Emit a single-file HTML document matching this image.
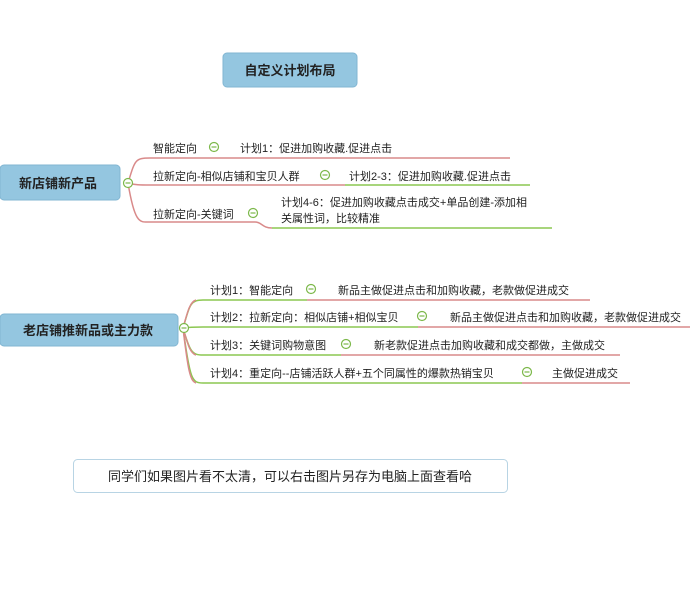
<!DOCTYPE html>
<html><head><meta charset="utf-8"><style>
html,body{margin:0;padding:0;background:#fff;}
svg{display:block;font-family:"Liberation Sans","Noto Sans CJK SC",sans-serif;}
.t{font-size:11px;fill:#222;}
.b{font-size:13px;fill:#222;font-weight:bold;}
</style></head><body>
<svg width="700" height="590" viewBox="0 0 700 590" xmlns="http://www.w3.org/2000/svg">
<rect x="223" y="53" width="134" height="34" rx="4" fill="#94c6e0" stroke="#82b6d2"/>
<text class="b" x="290" y="75" text-anchor="middle" font-weight="normal">自定义计划布局</text>

<!-- group 1 -->
<g fill="none" stroke-width="1.5">
<path d="M128 183 C135 160,135 158,150 158 L510 158" stroke="#d98a8a"/>
<path d="M128 183 C135 185,140 185,150 185 L345 185" stroke="#d98a8a"/>
<path d="M345 185 L530 185" stroke="#8cc751"/>
<path d="M128 183 C135 225,140 222,150 222 L255 222 C262 222,262 228,272 228" stroke="#d98a8a"/>
<path d="M272 228 L552 228" stroke="#8cc751"/>
</g>
<rect x="0" y="165" width="120" height="35" rx="4" fill="#94c6e0" stroke="#82b6d2"/>
<text class="b" x="58" y="188" text-anchor="middle" font-weight="normal">新店铺新产品</text>
<g fill="#fff" stroke="#7cb84a" stroke-width="1.2">
<circle cx="128" cy="183" r="4.5"/><circle cx="214" cy="147" r="4.5"/><circle cx="325" cy="175" r="4.5"/><circle cx="253" cy="213" r="4.5"/>
</g>
<g stroke="#7cb84a" stroke-width="1.2">
<line x1="125.5" y1="183" x2="130.5" y2="183"/><line x1="211.5" y1="147" x2="216.5" y2="147"/><line x1="322.5" y1="175" x2="327.5" y2="175"/><line x1="250.5" y1="213" x2="255.5" y2="213"/>
</g>
<text class="t" x="153" y="152">智能定向</text>
<text class="t" x="240" y="152">计划1：促进加购收藏.促进点击</text>
<text class="t" x="153" y="180">拉新定向-相似店铺和宝贝人群</text>
<text class="t" x="349" y="180">计划2-3：促进加购收藏.促进点击</text>
<text class="t" x="153" y="218">拉新定向-关键词</text>
<text class="t" x="281" y="206">计划4-6：促进加购收藏点击成交+单品创建-添加相</text>
<text class="t" x="281" y="222">关属性词，比较精准</text>

<!-- group 2 -->
<g fill="none" stroke-width="1.5">
<path d="M183 328 C190 305,190 300,203 300 L307 300" stroke="#8cc751"/>
<path d="M307 300 L590 300" stroke="#d98a8a"/>
<path d="M183 328 C190 327,195 327,203 327 L418 327" stroke="#8cc751"/>
<path d="M418 327 L690 327" stroke="#d98a8a"/>
<path d="M183 328 C190 352,192 355,203 355 L341 355" stroke="#8cc751"/>
<path d="M341 355 L620 355" stroke="#d98a8a"/>
<path d="M183 328 C190 380,192 383,203 383 L522 383" stroke="#8cc751"/>
<path d="M522 383 L630 383" stroke="#d98a8a"/>
</g>
<g fill="none" stroke="#d98a8a" stroke-width="1.5">
<path d="M183 328 C188 310,190 302,196 300"/><path d="M183 328 C188 345,190 353,196 355"/><path d="M183 328 C188 370,190 381,196 383"/>
</g>
<rect x="0" y="314" width="178" height="32" rx="4" fill="#94c6e0" stroke="#82b6d2"/>
<text class="b" x="88" y="335" text-anchor="middle" font-weight="normal">老店铺推新品或主力款</text>
<g fill="#fff" stroke="#7cb84a" stroke-width="1.2">
<circle cx="184" cy="328" r="4.5"/><circle cx="311" cy="289" r="4.5"/><circle cx="422" cy="316" r="4.5"/><circle cx="346" cy="344" r="4.5"/><circle cx="527" cy="372" r="4.5"/>
</g>
<g stroke="#7cb84a" stroke-width="1.2">
<line x1="181.5" y1="328" x2="186.5" y2="328"/><line x1="308.5" y1="289" x2="313.5" y2="289"/><line x1="419.5" y1="316" x2="424.5" y2="316"/><line x1="343.5" y1="344" x2="348.5" y2="344"/><line x1="524.5" y1="372" x2="529.5" y2="372"/>
</g>
<text class="t" x="210" y="294">计划1：智能定向</text>
<text class="t" x="338" y="294">新品主做促进点击和加购收藏，老款做促进成交</text>
<text class="t" x="210" y="321">计划2：拉新定向：相似店铺+相似宝贝</text>
<text class="t" x="450" y="321">新品主做促进点击和加购收藏，老款做促进成交</text>
<text class="t" x="210" y="349">计划3：关键词购物意图</text>
<text class="t" x="374" y="349">新老款促进点击加购收藏和成交都做，主做成交</text>
<text class="t" x="210" y="377">计划4：重定向--店铺活跃人群+五个同属性的爆款热销宝贝</text>
<text class="t" x="552" y="377">主做促进成交</text>

<rect x="73.5" y="459.5" width="434" height="33" rx="4" fill="#fff" stroke="#b8d4e4"/>
<text x="290" y="481" text-anchor="middle" style="font-size:13px;fill:#222">同学们如果图片看不太清，可以右击图片另存为电脑上面查看哈</text>
</svg>
</body></html>
